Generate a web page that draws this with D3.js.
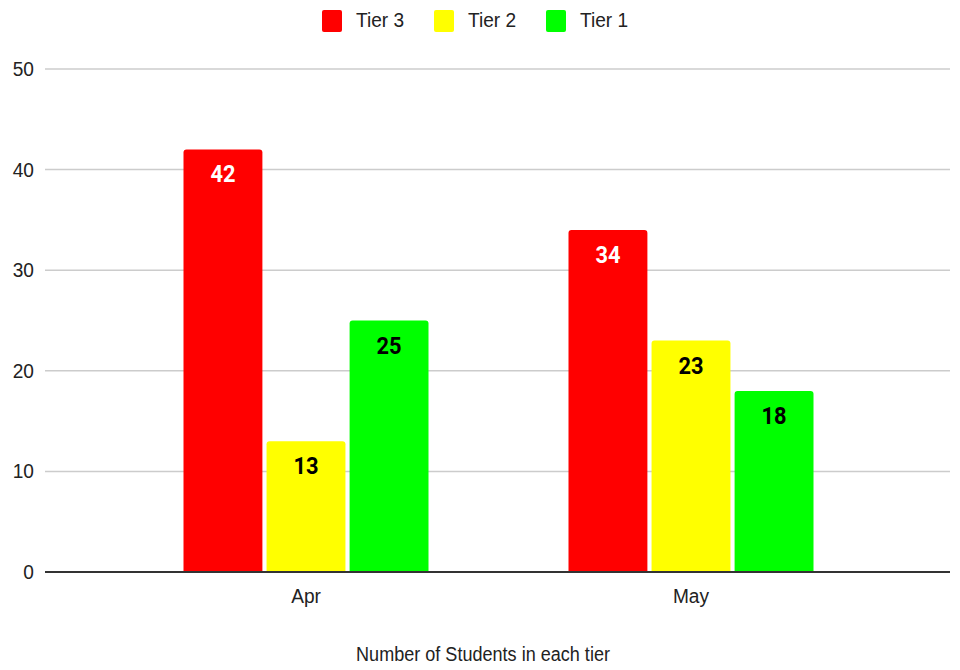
<!DOCTYPE html>
<html>
<head>
<meta charset="utf-8">
<script src="https://cdn.jsdelivr.net/npm/d3@7"></script>
<style>
  body { margin: 0; background: #fff; }
  text { font-family: "Liberation Sans", Arial, sans-serif; }
  .grid line { stroke: #cccccc; stroke-width: 1.5; }
</style>
</head>
<body>
<div id="chart"></div>
<script>
var months = ["Apr", "May"];
var tiers = ["Tier 3", "Tier 2", "Tier 1"];
var tierColors = ["#ff0000", "#ffff00", "#00ff00"];
var labelColors = ["#ffffff", "#000000", "#000000"];
var tier3 = [42, 34];
var tier2 = [13, 23];
var tier1 = [25, 18];
var yTicks = [0, 10, 20, 30, 40, 50];

var series = [tier3, tier2, tier1];

var width = 960, height = 670;
var sx = 0.91; // text in the picture is a little narrow

var svg = d3.select("#chart")
    .append("svg")
    .attr("width", width)
    .attr("height", height);

var y = d3.scaleLinear().domain([0, 50]).range([572, 69]);
var x0 = d3.scaleBand().domain(months).range([113.5, 883.5]).paddingInner(0).paddingOuter(0);
var x1 = d3.scaleBand().domain(tiers).range([0, 245]).paddingInner(0.05);
var groupOffset = (x0.bandwidth() - 245) / 2;

function place(x, yy, s) {
    return "translate(" + x + "," + yy + ") scale(" + (s || sx) + ",1)";
}

// grid lines
var grid = svg.append("g").attr("class", "grid");
grid.selectAll("line")
    .data(yTicks.filter(function (d) { return d > 0; }))
    .enter().append("line")
    .attr("x1", 45).attr("x2", 950)
    .attr("y1", function (d) { return y(d); })
    .attr("y2", function (d) { return y(d); });

// y tick labels
svg.append("g").selectAll("text")
    .data(yTicks)
    .enter().append("text")
    .attr("transform", function (d) { return place(34, y(d) + 7); })
    .attr("text-anchor", "end")
    .attr("font-size", 21)
    .attr("fill", "#222")
    .text(function (d) { return d; });

// rounded top bar path
function barPath(bx, by, bw, bh, r) {
    return "M" + bx + "," + (by + bh) +
        "V" + (by + r) +
        "Q" + bx + "," + by + " " + (bx + r) + "," + by +
        "H" + (bx + bw - r) +
        "Q" + (bx + bw) + "," + by + " " + (bx + bw) + "," + (by + r) +
        "V" + (by + bh) + "Z";
}

var bars = [];
months.forEach(function (m, mi) {
    series.forEach(function (s, si) {
        bars.push({ month: m, tier: tiers[si], si: si, value: s[mi] });
    });
});

var barG = svg.append("g");
barG.selectAll("path")
    .data(bars)
    .enter().append("path")
    .attr("fill", function (d) { return tierColors[d.si]; })
    .attr("d", function (d) {
        var bx = x0(d.month) + groupOffset + x1(d.tier);
        return barPath(bx, y(d.value), x1.bandwidth(), y(0) - y(d.value), 3);
    });

// value labels
barG.selectAll("text")
    .data(bars)
    .enter().append("text")
    .attr("transform", function (d) {
        return place(x0(d.month) + groupOffset + x1(d.tier) + x1.bandwidth() / 2, y(d.value) + 33);
    })
    .attr("text-anchor", "middle")
    .attr("font-weight", "bold")
    .attr("font-size", 24)
    .attr("fill", function (d) { return labelColors[d.si]; })
    .style("font-family", "Roboto, sans-serif")
    .text(function (d) { return d.value; });

// baseline
svg.append("line")
    .attr("x1", 45).attr("x2", 950)
    .attr("y1", y(0)).attr("y2", y(0))
    .attr("stroke", "#333").attr("stroke-width", 2);

// x labels
svg.append("g").selectAll("text")
    .data(months)
    .enter().append("text")
    .attr("transform", function (d) { return place(x0(d) + x0.bandwidth() / 2, 603); })
    .attr("text-anchor", "middle")
    .attr("font-size", 21)
    .attr("fill", "#222")
    .text(function (d) { return d; });

// axis title
svg.append("text")
    .attr("transform", place(483, 661, 0.86))
    .attr("text-anchor", "middle")
    .attr("font-size", 21)
    .attr("fill", "#222")
    .text("Number of Students in each tier");

// legend
var legendX = [322, 434, 546];
var legend = svg.append("g").selectAll("g")
    .data(tiers)
    .enter().append("g")
    .attr("transform", function (d, i) { return "translate(" + legendX[i] + ",10)"; });
legend.append("rect")
    .attr("width", 20).attr("height", 22).attr("rx", 2)
    .attr("fill", function (d, i) { return tierColors[i]; });
legend.append("text")
    .attr("transform", place(34, 17))
    .attr("font-size", 21)
    .attr("fill", "#222")
    .text(function (d) { return d; });
</script>
</body>
</html>
